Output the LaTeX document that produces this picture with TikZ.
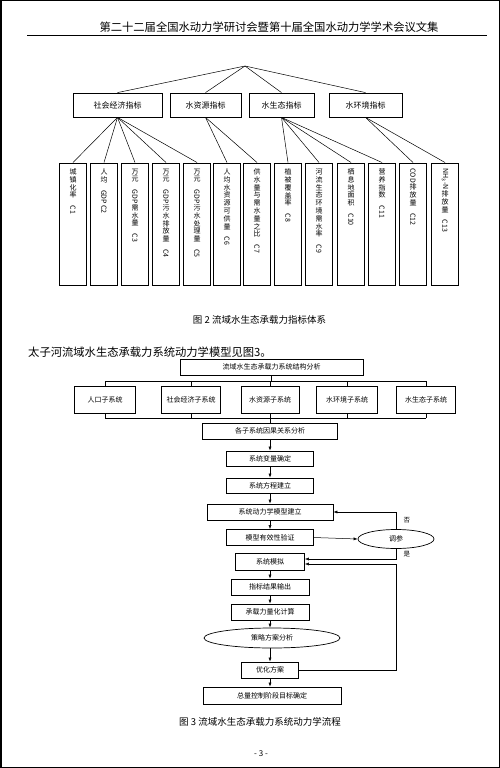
\documentclass[tikz,border=0pt]{standalone}
\usepackage{fontspec}
\usepackage{graphicx}
\setmainfont{Noto Sans CJK SC}
\usetikzlibrary{positioning,shapes.geometric,arrows.meta}

\begin{document}
\begin{tikzpicture}[x=1pt, y=-1pt,
          catbox/.style={
            draw, line width=0.8pt, minimum height=24pt, inner sep=0pt,
            font=\fontsize{8}{9}\selectfont
          },
          leaf/.style={draw, line width=1pt, minimum width=27pt, minimum height=122pt, inner sep=0pt},
          vtext/.style={align=center, inner sep=0pt, font=\fontsize{7}{7.8}\selectfont},
          flow/.style={draw, line width=0.7pt, inner sep=0pt, font=\fontsize{7}{8}\selectfont},
          oval/.style={flow, ellipse},
          link/.style={line width=0.5pt},
          arr/.style={link, -{Latex[length=4pt,width=3pt]}},
          caption/.style={inner sep=0pt, font=\fontsize{9.5}{11}\selectfont},
        ]
          \def\cx{270}

          \useasboundingbox (0,0) rectangle (500,768);
          \draw[line width=1.5pt] (0.75,0.75) rectangle (499.25,767.25);

          % Page header
          \node[inner sep=0pt, font=\fontsize{11.3}{13}\selectfont] (head) at (269,27) {第二十二届全国水动力学研讨会暨第十届全国水动力学学术会议文集};
          \draw[line width=0.8pt] (27,35) -- (487,35);

          % Figure 2: indicator system
          \coordinate (apex) at (245,66);
          \node[catbox, minimum width=89pt] (s1) at (117.5,105) {社会经济指标};
          \node[catbox, minimum width=71pt] (s2) at (205.5,105) {水资源指标};
          \node[catbox, minimum width=65pt] (s3) at (281.5,105) {水生态指标};
          \node[catbox, minimum width=73pt] (s4) at (365.5,105) {水环境指标};

          \draw[link] (apex) -- (s1.north);
          \draw[link] (apex) -- (s2.north);
          \draw[link] (apex) -- (s3.north);
          \draw[link] (apex) -- (s4.north);

          % Indicator boxes
          \node[leaf] (c1) at (73,224) {};
          \node[leaf] (c2) at (104,224) {};
          \node[leaf] (c3) at (135,224) {};
          \node[leaf] (c4) at (166,224) {};
          \node[leaf] (c5) at (197,224) {};
          \node[leaf] (c6) at (227,224) {};
          \node[leaf] (c7) at (257,224) {};
          \node[leaf] (c8) at (288,224) {};
          \node[leaf] (c9) at (319,224) {};
          \node[leaf] (c10) at (351,224) {};
          \node[leaf] (c11) at (382,224) {};
          \node[leaf] (c12) at (413,224) {};
          \node[leaf] (c13) at (445,224) {};

          \node[vtext, below=6pt of c1.north] (t1) {城\\镇\\化\\率\\\rotatebox{-90}{C1}};
          \node[vtext, below=6pt of c2.north] (t2) {人\\均\\\rotatebox{-90}{GDP}\\\rotatebox{-90}{C2}};
          \node[vtext, below=6pt of c3.north] (t3) {万\\元\\\rotatebox{-90}{GDP}\\需\\水\\量\\\rotatebox{-90}{C3}};
          \node[vtext, below=6pt of c4.north] (t4) {万\\元\\\rotatebox{-90}{GDP}\\污\\水\\排\\放\\量\\\rotatebox{-90}{C4}};
          \node[vtext, below=6pt of c5.north] (t5) {万\\元\\\rotatebox{-90}{GDP}\\污\\水\\处\\理\\量\\\rotatebox{-90}{C5}};
          \node[vtext, below=6pt of c6.north] (t6) {人\\均\\水\\资\\源\\可\\供\\量\\\rotatebox{-90}{C6}};
          \node[vtext, below=6pt of c7.north] (t7) {供\\水\\量\\与\\需\\水\\量\\之\\比\\\rotatebox{-90}{C7}};
          \node[vtext, below=6pt of c8.north] (t8) {植\\被\\覆\\盖\\率\\\rotatebox{-90}{C8}};
          \node[vtext, below=6pt of c9.north] (t9) {河\\流\\生\\态\\环\\境\\需\\水\\率\\\rotatebox{-90}{C9}};
          \node[vtext, below=6pt of c10.north] (t10) {栖\\息\\地\\面\\积\\\rotatebox{-90}{C10}};
          \node[vtext, below=6pt of c11.north] (t11) {营\\养\\指\\数\\\rotatebox{-90}{C11}};
          \node[vtext, below=6pt of c12.north] (t12) {\rotatebox{-90}{COD}\\排\\放\\量\\\rotatebox{-90}{C12}};
          \node[vtext, below=6pt of c13.north] (t13) {\rotatebox{-90}{NH\textsubscript{3}-N}\\排\\放\\量\\\rotatebox{-90}{C13}};

          % Links to indicators
          \draw[link] (s1.south) -- (c1.north);
          \draw[link] (s1.south) -- (c2.north);
          \draw[link] (s1.south) -- (c3.north);
          \draw[link] (s1.south) -- (c4.north);
          \draw[link] (s1.south) -- (c5.north);
          \draw[link] (s2.south) -- (c6.north);
          \draw[link] (s2.south) -- (c7.north);
          \draw[link] (s3.south) -- (c8.north);
          \draw[link] (s3.south) -- (c9.north);
          \draw[link] (s3.south) -- (c10.north);
          \draw[link] (s3.south) -- (c11.north);
          \draw[link] (s4.south) -- (c12.north);
          \draw[link] (s4.south) -- (c13.north);

          \node[caption] (cap2) at (259.5,320) {图 2 流域水生态承载力指标体系};

          % Body text
          \node[inner sep=0pt, anchor=west, font=\fontsize{11.3}{13}\selectfont] (para) at (28,352) {太子河流域水生态承载力系统动力学模型见图3。};

          % Figure 3: system dynamics flow
          \node[flow, minimum width=183pt, minimum height=16pt] (jiegou) at (271.5,367) {流域水生态承载力系统结构分析};

          \node[flow, minimum width=61pt, minimum height=27pt] (p1) at (105,399.5) {人口子系统};
          \node[flow, minimum width=59pt, minimum height=27pt] (p2) at (191,399.5) {社会经济子系统};
          \node[flow, minimum width=58pt, minimum height=27pt] (p3) at (270,399.5) {水资源子系统};
          \node[flow, minimum width=61pt, minimum height=27pt] (p4) at (347,399.5) {水环境子系统};
          \node[flow, minimum width=59pt, minimum height=27pt] (p5) at (426,399.5) {水生态子系统};

          \coordinate (bartl) at (105,381);
          \coordinate (bartr) at (426,381);
          \coordinate (barbl) at (105,418);
          \coordinate (barbr) at (426,418);

          \draw[link] (jiegou.south) -- (jiegou.south |- bartl);
          \draw[link] (bartl) -- (bartr);
          \draw[link] (p1.north |- bartl) -- (p1.north);
          \draw[link] (p2.north |- bartl) -- (p2.north);
          \draw[link] (p3.north |- bartl) -- (p3.north);
          \draw[link] (p4.north |- bartl) -- (p4.north);
          \draw[link] (p5.north |- bartl) -- (p5.north);

          \draw[link] (p1.south) -- (p1.south |- barbl);
          \draw[link] (p2.south) -- (p2.south |- barbl);
          \draw[link] (p3.south) -- (p3.south |- barbl);
          \draw[link] (p4.south) -- (p4.south |- barbl);
          \draw[link] (p5.south) -- (p5.south |- barbl);
          \draw[link] (barbl) -- (barbr);

          % Main column
          \node[flow, minimum width=135pt, minimum height=16pt] (yinguo) at (\cx,431) {各子系统因果关系分析};
          \node[flow, minimum width=87pt, minimum height=15pt] (bianliang) at (\cx,458.5) {系统变量确定};
          \node[flow, minimum width=87pt, minimum height=15pt] (fangcheng) at (\cx,485.5) {系统方程建立};
          \node[flow, minimum width=126pt, minimum height=16pt] (jianli) at (\cx,512) {系统动力学模型建立};
          \node[flow, minimum width=87pt, minimum height=16pt] (yanzheng) at (\cx,537.5) {模型有效性验证};
          \node[oval, minimum width=76pt, minimum height=19pt] (tiaocan) at (396,539) {调参};
          \node[flow, minimum width=69pt, minimum height=17pt] (moni) at (\cx,561.5) {系统模拟};
          \node[flow, minimum width=78pt, minimum height=16pt] (shuchu) at (\cx,587) {指标结果输出};
          \node[flow, minimum width=78pt, minimum height=16pt] (jisuan) at (\cx,612) {承载力量化计算};
          \node[oval, minimum width=136pt, minimum height=20pt] (celue) at (272,638) {策略方案分析};
          \node[flow, minimum width=57pt, minimum height=16pt] (youhua) at (\cx,670) {优化方案};
          \node[flow, minimum width=138pt, minimum height=17pt] (zongliang) at (272,695.5) {总量控制阶段目标确定};

          \draw[link] (p3.south |- barbl) -- (yinguo.north);
          \draw[arr] (yinguo.south) -- (bianliang.north);
          \draw[arr] (bianliang.south) -- (fangcheng.north);
          \draw[arr] (fangcheng.south) -- (jianli.north);
          \draw[arr] (jianli.south) -- (yanzheng.north);
          \draw[arr] (yanzheng.east) -- (tiaocan.west);
          \draw[arr] (tiaocan.north) |- (jianli.east) node[pos=0.25, right=4pt, font=\fontsize{6.5}{7}\selectfont] {否};
          \draw[arr] (tiaocan.south) |- ([yshift=2.5pt]moni.east) node[pos=0.25, right=4pt, font=\fontsize{6.5}{7}\selectfont] {是};
          \draw[arr] (moni.south) -- (shuchu.north);
          \draw[arr] (shuchu.south) -- (jisuan.north);
          \draw[arr] (jisuan.south) -- (jisuan.south |- celue.north);
          \draw[arr] (celue.south -| youhua.north) -- (youhua.north);
          \draw[arr] (youhua.south) -- (youhua.south |- zongliang.north);

          % Feedback from optimisation
          \coordinate (fb) at (396,670);
          \draw[arr] (youhua.east) -- (fb) |- ([yshift=-2.5pt]moni.east);

          \node[caption] (cap3) at (260,722) {图 3 流域水生态承载力系统动力学流程};

          % Page number
          \node[inner sep=0pt, font=\fontsize{8}{9}\selectfont] (page) at (261,754) {- 3 -};
        \end{tikzpicture}
\end{document}
